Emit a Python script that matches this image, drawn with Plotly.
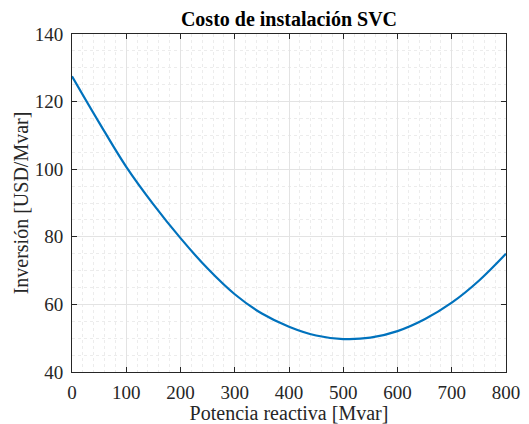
import plotly.graph_objects as go

# Reactive power (Mvar) and investment cost (USD/Mvar) of the SVC
potencia = [0, 50, 100, 150, 200, 250, 300, 350, 400, 450, 500, 550, 600, 650, 700, 750, 800]
inversion = [127.5, 113.8, 100.7, 89.6, 79.6, 70.6, 63.0, 57.3, 53.4, 50.8, 49.75, 50.15, 52.1, 55.6, 60.5, 67.0, 75.0]

x_ticks = [0, 100, 200, 300, 400, 500, 600, 700, 800]
y_ticks = [40, 60, 80, 100, 120, 140]

FONT = "Liberation Serif"
AXIS_COLOR = "#262626"

fig = go.Figure()
fig.add_trace(go.Scatter(
    x=potencia, y=inversion, mode="lines",
    line=dict(color="#0072BD", width=2.2, shape="spline", smoothing=1.0),
    showlegend=False,
))

common_axis = dict(
    showline=True, linecolor=AXIS_COLOR, linewidth=1, mirror="ticks",
    ticks="inside", ticklen=5, tickwidth=1, tickcolor=AXIS_COLOR,
    showgrid=True, gridcolor="#e3e3e3", gridwidth=1,
    zeroline=False, automargin=False,
    tickfont=dict(family=FONT, size=19, color=AXIS_COLOR),
)

fig.update_xaxes(
    range=[0, 800], tickvals=x_ticks, ticktext=[str(v) for v in x_ticks],
    ticklabelstandoff=3,
    title=dict(text="Potencia reactiva [Mvar]", font=dict(family=FONT, size=20, color=AXIS_COLOR), standoff=4),
    minor=dict(dtick=20, showgrid=True, griddash="dot", gridcolor="#ececec", gridwidth=1, ticks=""),
    **common_axis,
)
fig.update_yaxes(
    range=[40, 140], tickvals=y_ticks, ticktext=[str(v) for v in y_ticks],
    ticklabelstandoff=4,
    title=dict(text="Inversión [USD/Mvar]", font=dict(family=FONT, size=20, color=AXIS_COLOR), standoff=0),
    minor=dict(dtick=5, showgrid=True, griddash="dot", gridcolor="#ececec", gridwidth=1, ticks=""),
    **common_axis,
)

fig.update_layout(
    width=529, height=424,
    margin=dict(l=72, r=23, t=34, b=52),
    paper_bgcolor="white", plot_bgcolor="white",
    title=dict(
        text="<b>Costo de instalación SVC</b>",
        font=dict(family=FONT, size=20, color="black"),
        x=0.5, xref="paper", xanchor="center",
        y=0.955, yref="container", yanchor="middle",
    ),
)

fig.write_html("out.html")
